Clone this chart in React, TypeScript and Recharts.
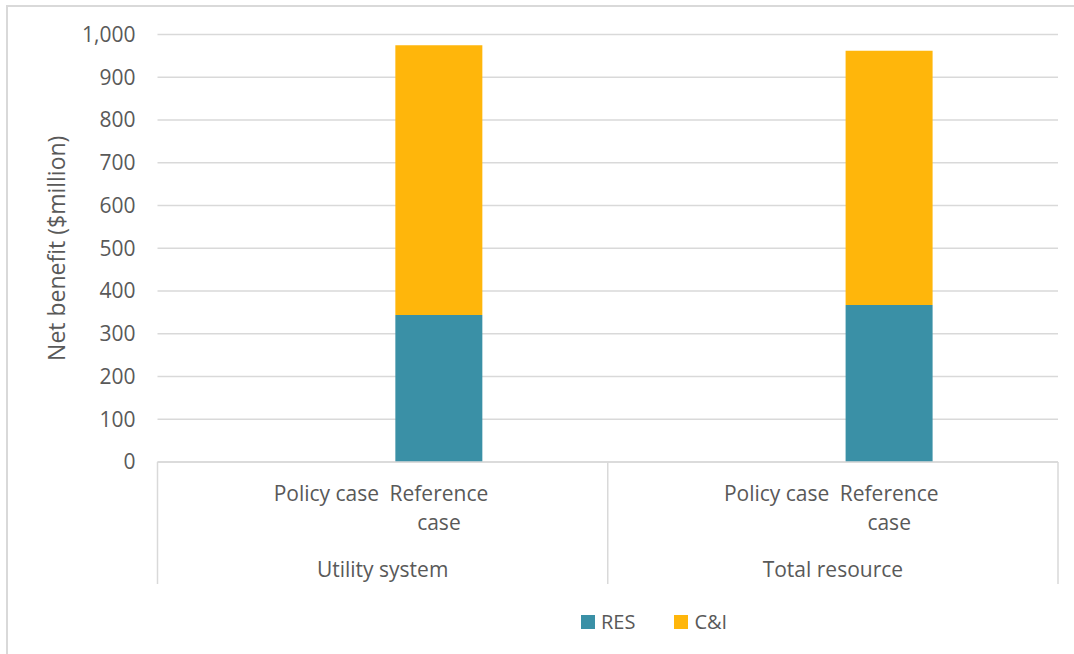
import React from "react";
import { BarChart, Bar, XAxis, YAxis, CartesianGrid, Legend } from "recharts";

// Two groups, each split into four case slots (outer slots are empty spacers)
const groupLabels = ["Utility system", "Total resource"];
const caseLabels = ["", "Policy case", "Reference case", ""];

// Net benefit in $million, one entry per slot across both groups
const resValues = [null, null, 344, null, null, null, 367, null];
const ciValues = [null, null, 631, null, null, null, 595, null];

const seriesNames = ["RES", "C&I"];
const yTicks = [0, 100, 200, 300, 400, 500, 600, 700, 800, 900, 1000];

const RES_COLOR = "#3A90A6";
const CI_COLOR = "#FFB60B";
const GRID = "#D9D9D9";
const TEXT = "#595959";
const FONT = "'Open Sans', sans-serif";
const TICK_SIZE = 21;

const data = resValues.map((res, i) => ({
  slot: `slot-${i}`,
  group: groupLabels[Math.floor(i / caseLabels.length)],
  label: caseLabels[i % caseLabels.length],
  RES: res,
  CI: ciValues[i],
}));

// Break a label into lines that fit the slot width
let measureCtx: CanvasRenderingContext2D | null = null;
const wrapLabel = (label: string, maxWidth: number): string[] => {
  if (!measureCtx && typeof document !== "undefined") {
    measureCtx = document.createElement("canvas").getContext("2d");
  }
  const measure = (s: string) => {
    if (!measureCtx) return s.length * TICK_SIZE * 0.5;
    measureCtx.font = `${TICK_SIZE}px 'Open Sans'`;
    return measureCtx.measureText(s).width;
  };
  const words = label.split(" ");
  const lines: string[] = [];
  let current = "";
  words.forEach((w) => {
    const next = current ? `${current} ${w}` : w;
    if (current && measure(next) > maxWidth) {
      lines.push(current);
      current = w;
    } else {
      current = next;
    }
  });
  if (current) lines.push(current);
  return lines;
};

const CaseTick = (props: any) => {
  const { x, y, payload } = props;
  const i: number = payload?.index ?? props.index ?? 0;
  const row = data[i];
  const half: number = payload?.offset ?? 56;
  const pos = i % caseLabels.length;
  const boxDepth = 122;
  const lines = row && row.label ? wrapLabel(row.label, half * 2) : [];
  return (
    <g>
      {pos === 0 && (
        <line x1={x - half} x2={x - half} y1={y} y2={y + boxDepth} stroke={GRID} strokeWidth={1.5} />
      )}
      {i === data.length - 1 && (
        <line x1={x + half} x2={x + half} y1={y} y2={y + boxDepth} stroke={GRID} strokeWidth={1.5} />
      )}
      {lines.length > 0 && (
        <text x={x} y={y + 39} textAnchor="middle" fill={TEXT} fontSize={TICK_SIZE} fontFamily={FONT}>
          {lines.map((ln, k) => (
            <tspan key={k} x={x} dy={k === 0 ? 0 : 29}>
              {ln}
            </tspan>
          ))}
        </text>
      )}
      {pos === 1 && row && (
        <text
          x={x + half}
          y={y + 114.5}
          textAnchor="middle"
          fill={TEXT}
          fontSize={TICK_SIZE}
          fontFamily={FONT}
        >
          {row.group}
        </text>
      )}
    </g>
  );
};

const YLabel = (props: any) => {
  const vb = props.viewBox || { x: 0, y: 0, width: 0, height: 0 };
  const cx = 64.5;
  const cy = vb.y + vb.height / 2;
  return (
    <text
      x={cx}
      y={cy}
      transform={`rotate(-90, ${cx}, ${cy})`}
      textAnchor="middle"
      fill={TEXT}
      fontSize={23}
      fontFamily={FONT}
    >
      Net benefit ($million)
    </text>
  );
};

const LegendContent = (props: any) => {
  const raw = props.payload || [];
  const items = seriesNames
    .map((name) => raw.find((p: any) => p.value === name))
    .filter(Boolean);
  return (
    <div
      style={{
        display: "flex",
        alignItems: "center",
        fontFamily: FONT,
        fontSize: 20,
        lineHeight: "28px",
        color: TEXT,
        whiteSpace: "nowrap",
      }}
    >
      {items.map((p: any, i: number) => (
        <div
          key={p.value}
          style={{ display: "flex", alignItems: "center", marginRight: i < items.length - 1 ? 39 : 0 }}
        >
          <span style={{ display: "inline-block", width: 14, height: 14, background: p.color, marginRight: 6 }} />
          <span>{p.value}</span>
        </div>
      ))}
    </div>
  );
};

export default function App() {
  return (
    <div style={{ position: "relative", width: 1074, height: 654, overflow: "hidden", background: "#fff" }}>
      <style>{`body{margin:0}`}</style>
      <div
        style={{
          position: "absolute",
          left: 6,
          top: 5,
          width: 1200,
          height: 800,
          borderLeft: `2px solid ${GRID}`,
          borderTop: `2px solid ${GRID}`,
        }}
      />
      <div style={{ position: "absolute", left: 0, top: 0 }}>
        <BarChart
          width={1074}
          height={654}
          data={data}
          margin={{ top: 34.5, right: 16, bottom: 70, left: 0 }}
          barCategoryGap="11.3%"
        >
          <CartesianGrid vertical={false} stroke={GRID} strokeWidth={1.5} />
          <XAxis
            dataKey="slot"
            height={122}
            interval={0}
            tickSize={0}
            tickMargin={0}
            tickLine={false}
            axisLine={{ stroke: GRID, strokeWidth: 1.5 }}
            tick={<CaseTick />}
          />
          <YAxis
            width={157.5}
            domain={[0, 1000]}
            ticks={yTicks}
            interval={0}
            axisLine={false}
            tickLine={false}
            tickSize={0}
            tickMargin={22}
            tickFormatter={(v: number) => v.toLocaleString("en-US")}
            tick={{ fill: TEXT, fontSize: TICK_SIZE, fontFamily: FONT }}
            label={{ content: <YLabel /> }}
          />
          <Legend
            layout="horizontal"
            verticalAlign="middle"
            align="center"
            wrapperStyle={{ left: 581, top: 608, width: "auto", height: "auto" }}
            content={<LegendContent />}
          />
          <Bar dataKey="RES" name="RES" stackId="net" fill={RES_COLOR} isAnimationActive={false} />
          <Bar dataKey="CI" name="C&I" stackId="net" fill={CI_COLOR} isAnimationActive={false} />
        </BarChart>
      </div>
    </div>
  );
}
